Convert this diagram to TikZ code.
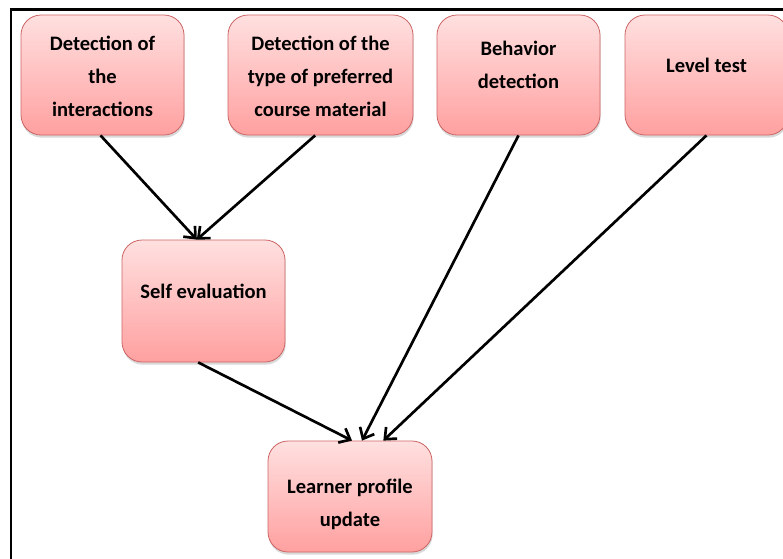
\documentclass[tikz,border=0pt]{standalone}
\usepackage{fontspec}
\setmainfont{Carlito}
\usetikzlibrary{arrows.meta,shadows}
\definecolor{boxtop}{RGB}{255,224,224}
\definecolor{boxbot}{RGB}{255,160,160}
\definecolor{boxline}{RGB}{205,100,100}
\begin{document}
\begin{tikzpicture}[x=0.75pt,y=-0.75pt,
box/.style={draw=boxline,line width=0.6pt,rounded corners=15pt,top color=boxtop,bottom color=boxbot,minimum width=122.25pt,minimum height=90pt,drop shadow={shadow xshift=0.5pt,shadow yshift=-2pt,opacity=0.3}},
lbl/.style={align=center,font=\fontsize{15.4}{24.7}\selectfont\bfseries},
link/.style={line width=2pt,-{Straight Barb[length=7pt,width=12pt]}}]
\useasboundingbox(0,0)rectangle(783,558);
\clip(0,0)rectangle(783,558);
\draw[line width=2.2pt](11,570)--(11,9.5)--(795,9.5);
% top row
\node[box](inter)at(102.5,75){};
\node[box,minimum width=138.75pt](mat)at(320.5,75){};
\node[box](behav)at(518.5,75){};
\node[box](level)at(706.5,75){};
\node[lbl](interT)at(102.5,76){Detection of\\the\\interactions};
\node[lbl](matT)at(320.5,76){Detection of the\\type of preferred\\course material};
\node[lbl](behavT)at(518.5,65){Behavior\\detection};
\node[lbl](levelT)at(706.5,65){Level test};
% middle and bottom
\node[box,minimum height=91.5pt](self)at(203.5,301){};
\node[lbl](selfT)at(203.5,291){Self evaluation};
\node[box,minimum width=123pt,minimum height=83.25pt](lpu)at(350,496.5){};
\node[lbl](lpuT)at(350,504){Learner profile\\update};
\draw[link](inter.south)++(-1.5pt,0)--([xshift=-5pt]self.north);
\draw[link]([xshift=-4pt]mat.south)--([xshift=-5pt]self.north);
\draw[link]([xshift=-4pt]self.south)--([xshift=1.5pt]lpu.north);
\draw[link](behav.south)--([xshift=9pt]lpu.north);
\draw[link](level.south)--([xshift=25pt]lpu.north);
\end{tikzpicture}
\end{document}
